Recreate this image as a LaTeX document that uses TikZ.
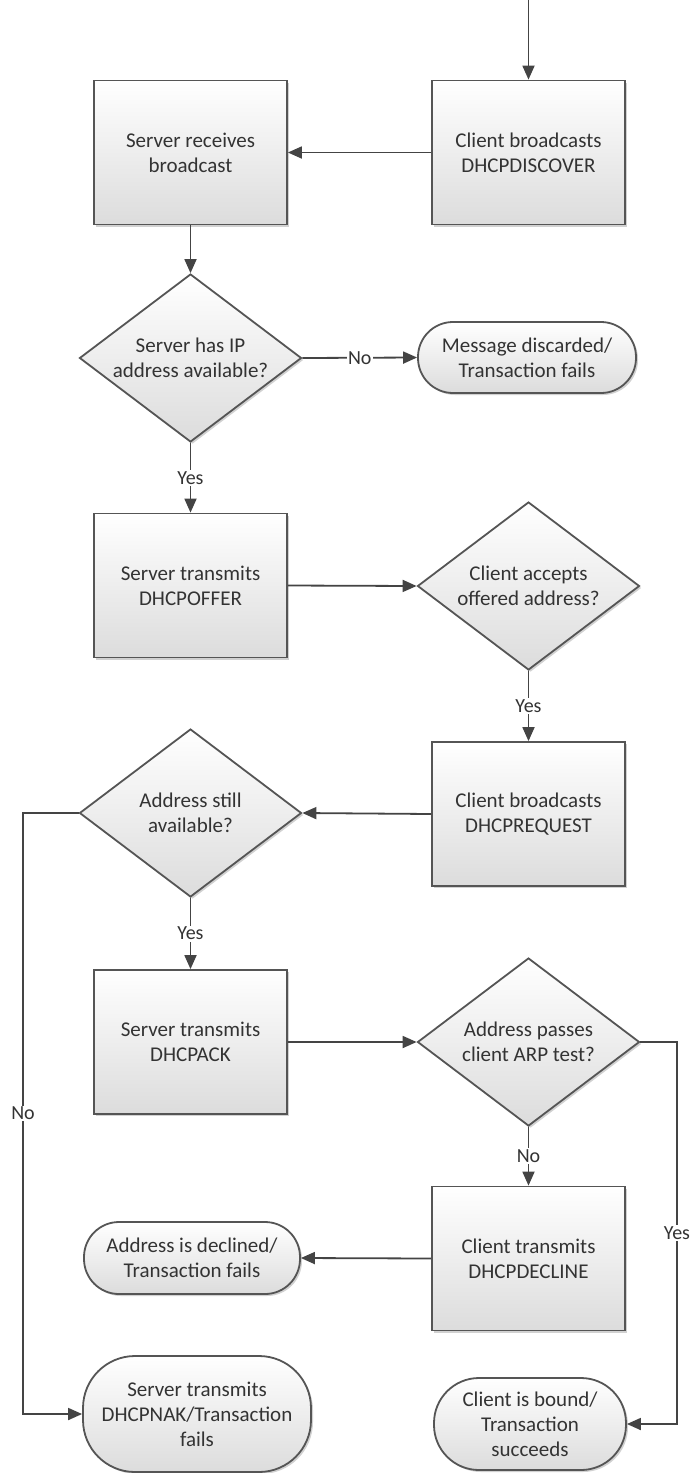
\documentclass[tikz,border=0pt]{standalone}
\usepackage{fontspec}
\setmainfont{Carlito}
\usetikzlibrary{shapes.geometric, arrows.meta, shadows}

\definecolor{edge}{HTML}{555555}
\definecolor{wire}{HTML}{444444}
\definecolor{ink}{HTML}{333333}
\definecolor{shadeend}{HTML}{DCDCDC}

\tikzset{
  base/.style={draw=edge, line width=1.8pt, top color=white, bottom color=shadeend,
    text=ink, font=\fontsize{21}{25}\selectfont, align=center,
    drop shadow={shadow xshift=2pt, shadow yshift=-2pt, opacity=0.18, fill=black}},
  stepbox/.style={base, rectangle, minimum width=193pt, minimum height=144pt, inner sep=0pt},
  decision/.style={base, diamond, minimum width=222pt, minimum height=168pt, aspect=1.32, inner sep=0pt},
  terminal/.style={base, rectangle, inner sep=0pt},
  conn/.style={draw=wire, line width=1.8pt, -{Triangle[length=14pt,width=12pt]}},
  lbl/.style={fill=white, text=ink, inner sep=1.5pt, font=\fontsize{20}{24}\selectfont},
}

\begin{document}
\begin{tikzpicture}[x=1pt, y=-1pt]
  \path[use as bounding box, fill=white] (0,0) rectangle (690,1473);

  % process steps
  \node[stepbox] (recv)    at (190.5, 152.5) {Server receives\\broadcast};
  \node[stepbox] (discover) at (528.5, 152.5) {Client broadcasts\\DHCPDISCOVER};
  \node[stepbox] (offer)   at (190.5, 585.5) {Server transmits\\DHCPOFFER};
  \node[stepbox] (request) at (528.5, 814)   {Client broadcasts\\DHCPREQUEST};
  \node[stepbox] (ack)     at (190.5, 1042)  {Server transmits\\DHCPACK};
  \node[stepbox] (decline) at (528.5, 1258.5) {Client transmits\\DHCPDECLINE};

  % decisions
  \node[decision] (hasip)  at (190.5, 358)  {Server has IP\\address available?};
  \node[decision] (accept) at (528.5, 586)  {Client accepts\\offered address?};
  \node[decision] (still)  at (190.5, 813)  {Address still\\available?};
  \node[decision] (arp)    at (528.5, 1042) {Address passes\\client ARP test?};

  % outcomes
  \node[terminal, rounded corners=35pt, minimum width=218pt, minimum height=71pt]
    (discard) at (527, 357.5) {Message discarded/\\Transaction fails};
  \node[terminal, rounded corners=35pt, minimum width=216pt, minimum height=72pt]
    (declined) at (192, 1258) {Address is declined/\\Transaction fails};
  \node[terminal, rounded corners=52pt, minimum width=228pt, minimum height=116pt]
    (nak) at (197, 1414) {Server transmits\\DHCPNAK/Transaction\\fails};
  \node[terminal, rounded corners=45pt, minimum width=192pt, minimum height=92pt]
    (bound) at (530, 1424) {Client is bound/\\Transaction\\succeeds};

  % helper coordinates for the outer routes
  \coordinate (start) at (528.5, 0);
  \coordinate (lx) at (23, 0);
  \coordinate (rx) at (677, 0);

  % connectors
  \draw[conn] (start) -- (discover.north);
  \draw[conn] (discover.west) -- (recv.east);
  \draw[conn] (recv.south) -- (hasip.north);
  \draw[conn] (hasip.east) -- node[lbl] {No} (discard.west);
  \draw[conn] (hasip.south) -- node[lbl] {Yes} (offer.north);
  \draw[conn] (offer.east) -- (accept.west);
  \draw[conn] (accept.south) -- node[lbl] {Yes} (request.north);
  \draw[conn] (request.west) -- (still.east);
  \draw[conn] (still.south) -- node[lbl] {Yes} (ack.north);
  \draw[conn] (still.west) -- (still.west -| lx) -- node[lbl] {No} (lx |- nak.west) -- (nak.west);
  \draw[conn] (ack.east) -- (arp.west);
  \draw[conn] (arp.south) -- node[lbl] {No} (decline.north);
  \draw[conn] (decline.west) -- (declined.east);
  \draw[conn] (arp.east) -- (arp.east -| rx) -- node[lbl] {Yes} (rx |- bound.east) -- (bound.east);
\end{tikzpicture}
\end{document}
